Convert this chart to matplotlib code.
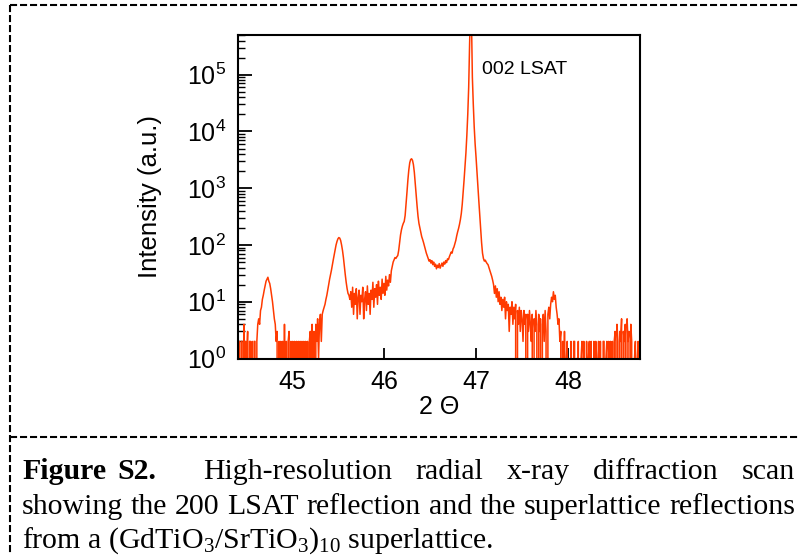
import numpy as np
import matplotlib
matplotlib.use("Agg")
import matplotlib.pyplot as plt
from matplotlib.lines import Line2D
from matplotlib.ticker import LogLocator, NullLocator, FuncFormatter

# scan: start angle, step, counts (rows of 0.1 deg)
scan_start = 44.40
scan_step = 0.01
intensity = [
    2, 0, 2, 2, 0, 2, 2, 0, 4, 0,            # 44.40
    2, 1, 3, 0, 2, 2, 0, 2, 0, 2,            # 44.50
    2, 0, 2, 4, 5, 4, 7, 8, 11, 13,          # 44.60
    16, 19, 23, 25, 27, 23, 21, 17, 13, 10,  # 44.70
    7, 5, 4, 2, 3, 0, 2, 0, 2, 0,            # 44.80
    2, 0, 4, 0, 2, 0, 2, 3, 0, 2,            # 44.90
    0, 2, 0, 2, 0, 2, 1, 2, 0, 2,            # 45.00
    0, 2, 0, 2, 0, 2, 0, 2, 0, 2,            # 45.10
    3, 0, 4, 0, 3, 0, 4, 2, 5, 1,            # 45.20
    4, 6, 2, 6, 7, 8, 9, 11, 13, 16,         # 45.30
    20, 25, 30, 36, 45, 55, 68, 82, 100, 115,  # 45.40
    128, 135, 132, 120, 100, 80, 60, 42, 30, 22,  # 45.50
    17, 14, 13, 11, 15, 8, 18, 6, 14, 9,     # 45.60
    17, 5, 12, 16, 6, 13, 10, 18, 5, 11,     # 45.70
    15, 7, 19, 9, 14, 6, 16, 11, 22, 8,      # 45.80
    17, 12, 20, 9, 23, 13, 18, 11, 25, 14,   # 45.90
    21, 13, 28, 16, 24, 19, 30, 22, 35, 42,  # 46.00
    50, 55, 60, 58, 62, 65, 80, 110, 150, 185,  # 46.10
    215, 240, 260, 330, 520, 850, 1400, 2100, 2800, 3200,  # 46.20
    3300, 3100, 2600, 1900, 1200, 750, 480, 320, 240, 200,  # 46.30
    165, 140, 125, 110, 95, 82, 72, 65, 58, 52,  # 46.40
    55, 48, 53, 45, 50, 42, 46, 38, 44, 40,  # 46.50
    47, 39, 43, 48, 42, 50, 46, 53, 49, 57,  # 46.60
    55, 62, 68, 75, 72, 85, 92, 105, 120, 145,  # 46.70
    170, 195, 230, 280, 360, 520, 830, 1400, 2400, 4200,  # 46.80
    8500, 20000, 60000, 350000, 1500000, 1000000, 90000, 30000, 12000, 6000,  # 46.90
    3500, 1900, 1050, 600, 340, 200, 110, 72, 58, 52,  # 47.00
    54, 50, 47, 45, 40, 36, 32, 28, 24, 20,  # 47.10
    14, 19, 12, 17, 10, 15, 9, 12, 7, 11,    # 47.20
    8, 12, 5, 10, 7, 9, 3, 8, 6, 10,         # 47.30
    4, 8, 5, 9, 0, 7, 4, 8, 3, 7,            # 47.40
    5, 2, 7, 4, 6, 0, 6, 3, 7, 4,            # 47.50
    2, 6, 0, 5, 3, 7, 4, 0, 6, 3,            # 47.60
    5, 0, 4, 6, 2, 7, 3, 0, 6, 8,            # 47.70
    5, 9, 12, 10, 15, 11, 13, 8, 6, 4,       # 47.80
    5, 2, 3, 0, 2, 0, 3, 0, 1, 2,            # 47.90
    0, 1, 0, 2, 0, 0, 2, 2, 0, 1,            # 48.00
    0, 2, 0, 0, 1, 2, 0, 2, 0, 0,            # 48.10
    2, 0, 1, 2, 0, 2, 0, 0, 2, 0,            # 48.20
    2, 1, 0, 2, 0, 2, 0, 0, 2, 2,            # 48.30
    0, 1, 2, 0, 2, 0, 2, 0, 2, 0,            # 48.40
    2, 3, 0, 4, 2, 0, 3, 2, 5, 0,            # 48.50
    3, 2, 4, 0, 5, 2, 3, 0, 4, 2,            # 48.60
    0, 0, 1, 2, 0, 1, 2, 0, 2, 0,            # 48.70
]
two_theta = scan_start + scan_step * np.arange(len(intensity))

x_ticks = [45, 46, 47, 48]
peak_label = "002 LSAT"

caption_line1 = ["High-resolution", "radial", "x-ray", "diffraction", "scan"]
caption_line2 = "showing the 200 LSAT reflection and the superlattice reflections"
caption_line3 = r"from a $\mathregular{(GdTiO_3/SrTiO_3)_{10}}$ superlattice."

plt.rcParams['font.family'] = ['Liberation Sans', 'DejaVu Sans']

W, H = 799, 555
fig = plt.figure(figsize=(W / 100, H / 100), dpi=100)
ax = fig.add_axes([237.5 / W, 1 - 358.5 / H, (640 - 237.5) / W, (358.5 - 35) / H])

ax.plot(two_theta, intensity, color='#ff3a00', lw=1.1)
ax.set_yscale('log')
ax.set_xlim(44.41, 48.78)
ax.set_ylim(1, 5e5)

ax.set_xticks(x_ticks)
ax.xaxis.set_minor_locator(NullLocator())
ax.yaxis.set_major_locator(LogLocator(base=10, numticks=10))
ax.yaxis.set_minor_locator(LogLocator(base=10, subs=np.arange(2, 10), numticks=20))
ax.yaxis.set_major_formatter(FuncFormatter(
    lambda v, p: r'$\mathregular{10^{%d}}$' % round(np.log10(v))))

ax.tick_params(axis='y', which='major', direction='in', length=10, width=1.3,
               labelsize=18, pad=8)
ax.tick_params(axis='y', which='minor', direction='in', length=5, width=1.0)
ax.tick_params(axis='x', which='major', direction='in', length=8, width=1.3,
               labelsize=18, pad=8)
for s in ax.spines.values():
    s.set_linewidth(1.5)

ax.set_xlabel('2 Θ', fontsize=18, labelpad=1)
ax.set_ylabel('Intensity (a.u.)', fontsize=18.5, labelpad=18)
ax.text(47.06, 10 ** 5.09, peak_label, fontsize=14, va='center', ha='left')

# dashed frame
dash = (0, (3.4, 1.4))
def px(x, y):
    return x / W, 1 - y / H
for (x0, y0), (x1, y1) in [((10, 5), (10, 555)), ((10, 5), (799, 5)), ((10, 437), (799, 437))]:
    a, b = px(x0, y0)
    c, d = px(x1, y1)
    fig.add_artist(Line2D([a, c], [b, d], transform=fig.transFigure,
                          color='black', lw=1.5, linestyle=dash))

# caption, justified like the source
r = fig.canvas.get_renderer()
serif = ['Liberation Serif', 'DejaVu Serif']
probe = fig.text(0, 0, caption_line3, fontsize=16, family=serif)
w3 = probe.get_window_extent(r).width
probe.remove()
fs = 16 * 473 / w3

x_left, x_right = 22, 795
base = [479, 513.5, 548]

def justify(items, ybase):
    texts = []
    for word, weight, sp in items:
        t = fig.text(0, 1 - ybase / H, word, fontsize=fs, family=serif,
                     weight=weight, va='baseline', ha='left')
        texts.append((t, sp))
    widths = [t.get_window_extent(r).width for t, _ in texts]
    units = sum(sp for _, sp in texts[:-1])
    gap = (x_right - x_left - sum(widths)) / units
    x = x_left
    for (t, sp), w in zip(texts, widths):
        t.set_x(x / W)
        x += w + gap * sp

items1 = [("Figure", 'bold', 0.5), ("S2.", 'bold', 2.0)] + \
    [(w, 'normal', 1) for w in caption_line1]
justify(items1, base[0])
justify([(w, 'normal', 1) for w in caption_line2.split()], base[1])
fig.text(x_left / W, 1 - base[2] / H, caption_line3, fontsize=fs, family=serif,
         va='baseline', ha='left')

fig.savefig('out.png', dpi=100)
